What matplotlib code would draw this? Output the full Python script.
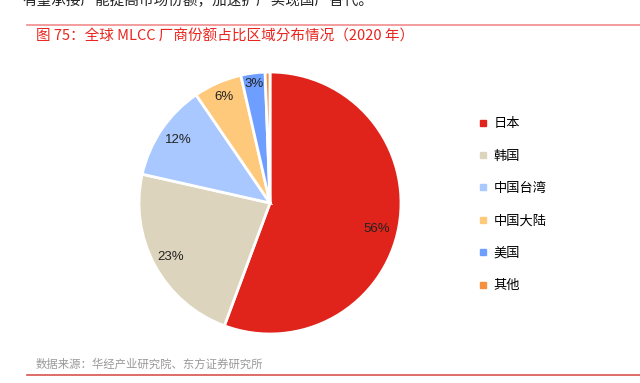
import matplotlib
matplotlib.use('Agg')
import numpy as np
import matplotlib.pyplot as plt
from matplotlib.lines import Line2D

plt.rcParams['font.family'] = ['Noto Sans CJK SC', 'DejaVu Sans']

regions = ['日本', '韩国', '中国台湾', '中国大陆', '美国', '其他']
shares = [56, 23, 12, 6, 3, 0.6]
colors = ['#E0241B', '#DDD4BE', '#A8C8FF', '#FFC97C', '#6E9EFF', '#F5913E']

W, H = 640, 383
fig = plt.figure(figsize=(W / 100, H / 100), dpi=100)

def fx(px):
    return px / W

def fy(py):
    return 1 - py / H

# cut-off body text at the top of the page
fig.text(fx(22), fy(5), '有望承接产能提高市场份额，加速扩产实现国产替代。',
         fontsize=10.5, color='#222222', va='baseline')

# title and rules
fig.add_artist(Line2D([fx(27), 1], [fy(25), fy(25)], color='#F28C8C', lw=1.2))
fig.text(fx(36), fy(36), '图 75：全球 MLCC 厂商份额占比区域分布情况（2020 年）',
         fontsize=10.5, color='#E8251E', va='center', fontweight='medium')
fig.add_artist(Line2D([fx(27), 1], [fy(375), fy(375)], color='#D9534F', lw=1.2))
fig.text(fx(36), fy(364), '数据来源：华经产业研究院、东方证券研究所',
         fontsize=8.2, color='#999999', va='center')

# pie
cx, cy, r = 270, 203, 131
ax = fig.add_axes([fx(cx - r), fy(cy + r), 2 * r / W, 2 * r / H])
wedges, texts, autotexts = ax.pie(
    shares, colors=colors, startangle=90, counterclock=False,
    autopct=lambda p: f'{p:.0f}%' if p > 1 else '', pctdistance=0.84,
    wedgeprops=dict(edgecolor='white', linewidth=2),
    textprops=dict(fontsize=9.5, color='#222222', family=['Liberation Sans']))
ax.set_xlim(-1, 1)
ax.set_ylim(-1, 1)
ax.set_aspect('auto')

# nudge label radii to match the reference
label_dist = [0.83, 0.86, 0.85, 0.88, 0.92, 0.9]
for i, (w, t, d) in enumerate(zip(wedges, autotexts, label_dist)):
    a = np.deg2rad((w.theta1 + w.theta2) / 2)
    dy = -0.05 if i == 0 else 0
    t.set_position((d * np.cos(a), d * np.sin(a) + dy))

# legend
handles = [Line2D([], [], marker='s', ls='', color=c, markersize=4) for c in colors]
fig.legend(handles, regions, loc='upper left', bbox_to_anchor=(fx(474), fy(112)),
           frameon=False, fontsize=9.5, handlelength=0.6, handletextpad=0.5,
           labelspacing=1.47, borderaxespad=0)

fig.savefig('out.png', dpi=100)
